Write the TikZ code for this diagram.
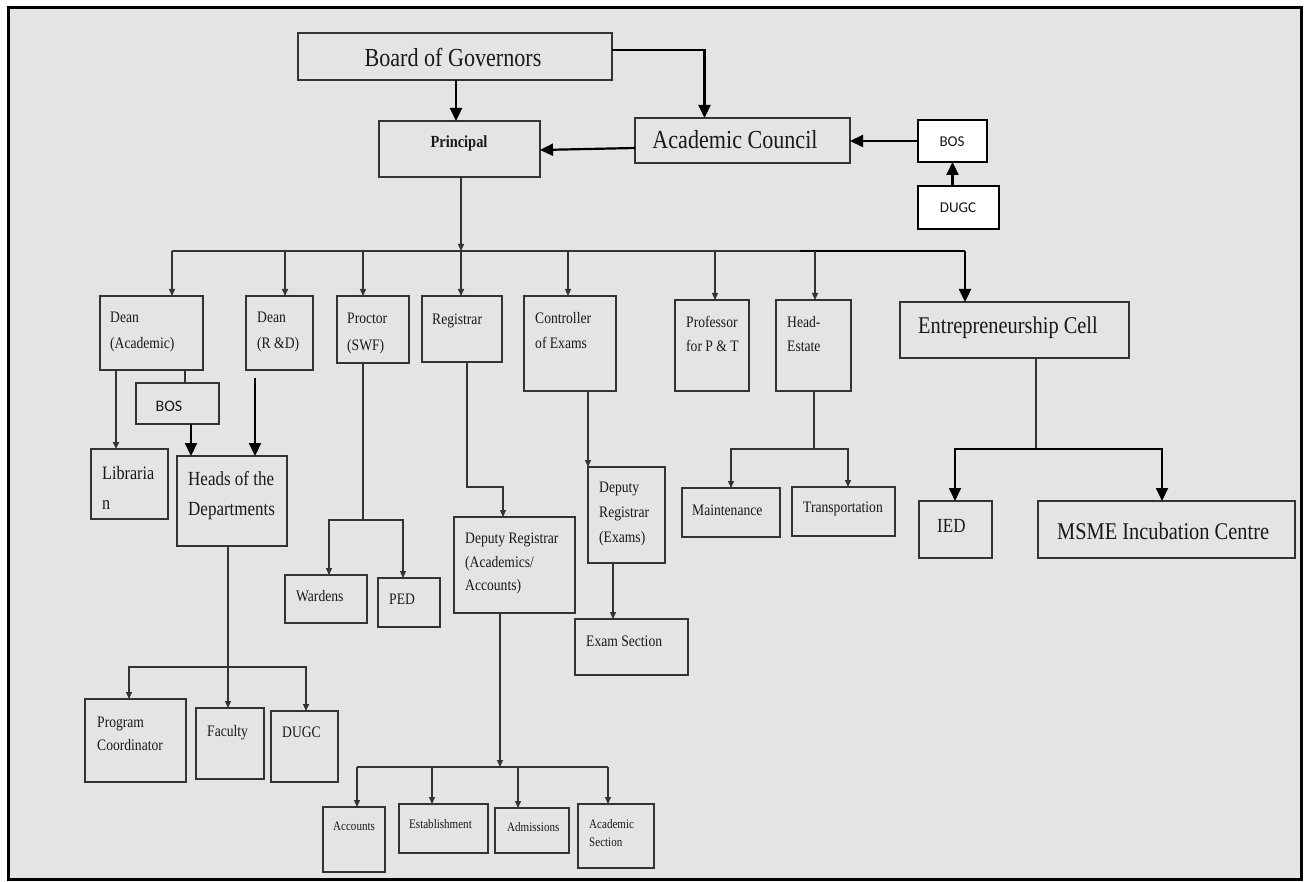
\documentclass[tikz,border=0pt]{standalone}
\usepackage{fontspec}
\setmainfont{Liberation Serif}[FakeStretch=0.85]
\newfontfamily\carl{Carlito}
\usetikzlibrary{arrows.meta}
\definecolor{bg}{HTML}{E4E4E4}
\definecolor{ln}{HTML}{333333}
\newcommand\bx[6][boxst]{\node[#1, minimum width={(#5-#3)*1pt}, minimum height={(#6-#4)*1pt}] (#2) at ({(#3+#5)/2},{(#4+#6)/2}) {};}
\newcommand\tx[6]{\node[txt, font=\fontsize{#4}{#5}\selectfont] (#1) at (#2,#3) {#6};}
\begin{document}
\begin{tikzpicture}[x=1pt,y=-1pt,
 boxst/.style={draw=ln, line width=1.7pt, inner sep=0pt, outer sep=0pt},
 wbox/.style={draw=black, line width=1.6pt, fill=white, inner sep=0pt, outer sep=0pt},
 txt/.style={anchor=north west, inner sep=0pt, align=left, text=black!90},
 ctxt/.style={anchor=center, inner sep=0pt, text=black!90},
 sline/.style={draw=ln, line width=1.3pt},
 sarr/.style={sline, -{Triangle[length=7pt,width=6pt]}},
 tline/.style={draw=black, line width=2.2pt},
 tarr/.style={tline, -{Triangle[length=13pt,width=12pt]}},
]
\useasboundingbox (0,0) rectangle (1305,882);
\fill[white] (0,0) rectangle (1305,882);
\draw[line width=2.6pt, fill=bg] (8.5,7.5) rectangle (1301.5,879.5);

% boxes
\bx{bog}{298}{33}{612}{80}
\bx{prin}{379}{121}{540}{177}
\bx{ac}{635}{118}{850}{163}
\bx[wbox]{bosr}{918}{120}{987}{162}
\bx[wbox]{dugcr}{918}{186}{999}{229}
\bx{da}{100}{296}{203}{370}
\bx{drd}{246}{296}{313}{370}
\bx{proc}{337}{296}{409}{363}
\bx{reg}{422}{296}{502}{362}
\bx{coe}{524}{296}{616}{391}
\bx{prof}{675}{300}{749}{391}
\bx{he}{776}{300}{851}{391}
\bx{ec}{900}{302}{1129}{358}
\bx{bosl}{136}{383}{219}{424}
\bx{lib}{91}{449}{168}{519}
\bx{heads}{177}{456}{287}{546}
\bx{dra}{454}{517}{575}{613}
\bx{dre}{588}{467}{665}{563}
\bx{exs}{575}{619}{688}{675}
\bx{maint}{682}{488}{780}{537}
\bx{trans}{792}{487}{895}{536}
\bx{ward}{285}{575}{367}{623}
\bx{ped}{378}{578}{440}{627}
\bx{ied}{919}{501}{992}{558}
\bx{msme}{1038}{501}{1295}{558}
\bx{pc}{85}{699}{186}{782}
\bx{fac}{196}{708}{264}{779}
\bx{dugcl}{271}{711}{338}{782}
\bx{acc}{323}{807}{385}{872}
\bx{est}{399}{804}{488}{853}
\bx{adm}{495}{808}{569}{853}
\bx{acs}{578}{804}{654}{868}

% texts
\node[ctxt, font=\fontsize{26}{30}\selectfont] (t-bog) at (453,57) {Board of Governors};
\node[anchor=base, inner sep=0pt, text=black!90, font=\fontsize{17}{20}\selectfont\bfseries] (t-prin) at (459,148) {Principal};
\node[ctxt, font=\fontsize{26}{30}\selectfont] (t-ac) at (735,140) {Academic Council};
\node[ctxt, font=\carl\fontsize{15}{18}\selectfont] (t-bosr) at (952,142) {BOS};
\node[ctxt, font=\carl\fontsize{15}{18}\selectfont] (t-dugcr) at (958,208) {DUGC};
\node[ctxt, font=\carl\fontsize{16}{18}\selectfont] (t-bosl) at (169,406) {BOS};
\tx{t-da}{110}{312}{16}{26}{Dean\\(Academic)}
\tx{t-drd}{257}{312}{16}{26}{Dean\\(R \&D)}
\tx{t-proc}{347}{313}{16}{27}{Proctor\\(SWF)}
\tx{t-reg}{432}{314}{16}{26}{Registrar}
\tx{t-coe}{535}{312}{16}{25}{Controller\\of Exams}
\tx{t-prof}{686}{316}{16}{24}{Professor\\for P \& T}
\tx{t-he}{787}{316}{16}{24}{Head-\\Estate}
\tx{t-ec}{918}{317}{24}{28}{Entrepreneurship Cell}
\tx{t-lib}{102}{466}{19}{30}{Libraria\\n}
\tx{t-heads}{188}{471}{20}{30}{Heads of the\\Departments}
\tx{t-dre}{599}{482}{16}{25}{Deputy\\Registrar\\(Exams)}
\tx{t-dra}{465}{533}{16}{23.5}{Deputy Registrar\\(Academics/\\Accounts)}
\tx{t-maint}{692}{505}{16}{20}{Maintenance}
\tx{t-trans}{803}{502}{16}{20}{Transportation}
\tx{t-ward}{296}{590}{16}{20}{Wardens}
\tx{t-ped}{389}{594}{16}{20}{PED}
\tx{t-exs}{586}{636}{16}{20}{Exam Section}
\tx{t-ied}{937}{519}{20}{24}{IED}
\tx{t-msme}{1057}{523}{24}{28}{MSME Incubation Centre}
\tx{t-pc}{97}{717}{16}{23}{Program\\Coordinator}
\tx{t-fac}{207}{725}{16}{20}{Faculty}
\tx{t-dugcl}{282}{727}{16}{20}{DUGC}
\tx{t-acc}{333}{822}{13}{18}{Accounts}
\tx{t-est}{409}{819}{13}{18}{Establishment}
\tx{t-adm}{507}{822}{13}{18}{Admissions}
\tx{t-acs}{589}{819}{13}{18}{Academic\\Section}

% top connectors
\draw[tarr] (bog.south -| 456,0) -- (prin.north -| 456,0);
\draw[tarr] (bog.east |- 0,50) -| ([xshift=-38pt]ac.north);
\draw[tarr] (ac.west |- 0,148) -- (prin.east |- 0,150);
\draw[tarr] (bosr.west) -- (ac.east |- bosr.west);
\draw[tarr] (bosr.south |- dugcr.north) -- (bosr.south);

% main bus
\coordinate (b1) at (461,251);
\coordinate (b1L) at (172,251);
\coordinate (b1M) at (800,251);
\coordinate (b1R) at (965,251);
\draw[sarr] (prin.south -| b1) -- (b1);
\draw[sline] (b1L) -- (b1R);
\draw[draw=black, line width=1.8pt] (b1M) -- (b1R);
\draw[sarr] (b1L) -- (b1L |- da.north);
\draw[sarr] (285,0 |- b1) -- (285,0 |- drd.north);
\draw[sarr] (363,0 |- b1) -- (363,0 |- proc.north);
\draw[sarr] (b1) -- (b1 |- reg.north);
\draw[sarr] (568,0 |- b1) -- (568,0 |- coe.north);
\draw[sarr] (715,0 |- b1) -- (715,0 |- prof.north);
\draw[sarr] (815,0 |- b1) -- (815,0 |- he.north);
\draw[tarr] (b1R) -- (b1R |- ec.north);

% dean academic / R&D
\draw[sarr, line width=1.8pt] (116,0 |- da.south) -- (116,0 |- lib.north);
\draw[sline] (185,0 |- da.south) -- (185,0 |- bosl.north);
\draw[tarr] (191,0 |- bosl.south) -- (191,0 |- heads.north);
\coordinate (rdgap) at (255,378);
\draw[tarr] (rdgap) -- (rdgap |- heads.north);

% heads
\coordinate (hj) at (228,667);
\draw[sarr] (heads.south -| hj) -- (hj |- fac.north);
\draw[sarr] (hj) -| (129,0 |- pc.north);
\draw[sarr] (hj) -| (306,0 |- dugcl.north);

% proctor
\coordinate (pj) at (363,520);
\draw[sline] (proc.south -| pj) -- (pj);
\draw[sarr] (pj) -| (329,0 |- ward.north);
\draw[sarr] (pj) -| (403,0 |- ped.north);

% registrar
\coordinate (rj) at (503,487);
\draw[sarr] (467,0 |- reg.south) |- (rj) -- (rj |- dra.north);

% deputy registrar academics
\coordinate (aj) at (500,767);
\coordinate (ajL) at (357,767);
\coordinate (ajR) at (608,767);
\draw[sarr] (dra.south -| aj) -- (aj);
\draw[sline] (ajL) -- (ajR);
\draw[sarr] (ajL) -- (ajL |- acc.north);
\draw[sarr] (432,0 |- aj) -- (432,0 |- est.north);
\draw[sarr] (518,0 |- aj) -- (518,0 |- adm.north);
\draw[sarr] (ajR) -- (ajR |- acs.north);

% controller
\draw[sarr] (588,0 |- coe.south) -- (588,0 |- dre.north);
\draw[sarr] (613,0 |- dre.south) -- (613,0 |- exs.north);

% head estate
\coordinate (ej) at (814,449);
\draw[sline] (he.south -| ej) -- (ej);
\draw[sarr] (ej) -| (731,0 |- maint.north);
\draw[sarr] (ej) -| (848,0 |- trans.north);

% e-cell
\coordinate (cj) at (1036,449);
\draw[sline, line width=1.5pt] (ec.south -| cj) -- (cj);
\draw[tarr, line width=1.8pt] (cj) -| (955,0 |- ied.north);
\draw[tarr, line width=1.8pt] (cj) -| (1162,0 |- msme.north);
\end{tikzpicture}
\end{document}
